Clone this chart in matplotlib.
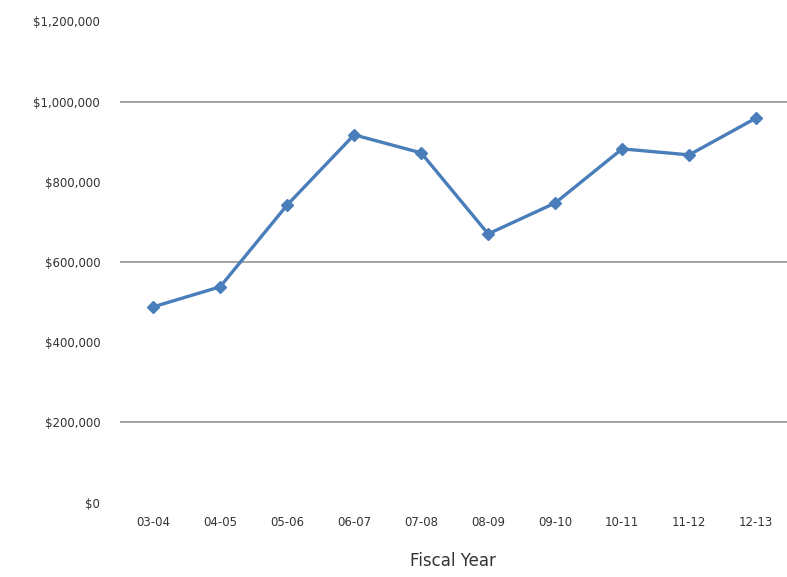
import matplotlib.pyplot as plt
from matplotlib.ticker import FuncFormatter

years = ['03-04', '04-05', '05-06', '06-07', '07-08', '08-09', '09-10', '10-11', '11-12', '12-13']
amounts = [488000, 538000, 742000, 917000, 872000, 670000, 747000, 882000, 867000, 959000]
y_ticks = [0, 200000, 400000, 600000, 800000, 1000000, 1200000]
grid_at = [200000, 600000, 1000000]

fig = plt.figure(figsize=(7.87, 5.77), dpi=100)
ax = fig.add_axes([0.152, 0.129, 0.848, 0.834])

for g in grid_at:  # only these gridlines show up in the picture
    ax.axhline(g, color='#8a8a8a', lw=1.1, zorder=1)

x = range(len(years))
ax.plot(x, amounts, color='#4a7ebb', lw=2.4, marker='D', ms=6.5, zorder=3)

ax.set_xlim(-0.5, 9.46)
ax.set_ylim(0, 1200000)
ax.set_xticks(list(x))
ax.set_xticklabels(years)
ax.set_yticks(y_ticks)
ax.yaxis.set_major_formatter(FuncFormatter(lambda v, p: '${:,.0f}'.format(v)))
ax.tick_params(length=0, colors='#333333')
ax.tick_params(axis='y', pad=14, labelsize=8.5)
ax.tick_params(axis='x', pad=10, labelsize=8.5)
for s in ax.spines.values():
    s.set_visible(False)

ax.set_xlabel('Fiscal Year', fontsize=12, color='#333333', labelpad=16)

fig.savefig('out.png', dpi=100)
